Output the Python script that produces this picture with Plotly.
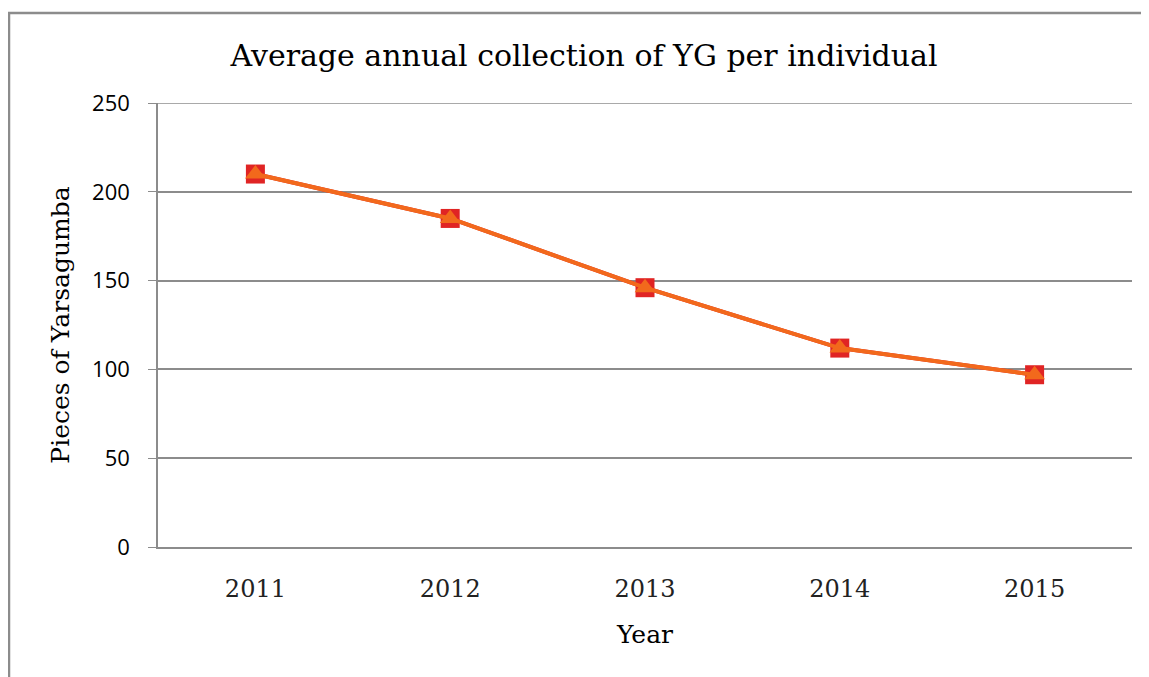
import plotly.graph_objects as go

years = ["2011", "2012", "2013", "2014", "2015"]
series_a = [210, 185, 146, 112, 97]
series_b = [210, 185, 146, 112, 97]
y_ticks = [0, 50, 100, 150, 200, 250]

# page body adds an 8px offset, so margins are shifted to land the plot area
OFF = 8
W, H = 1149, 677
L, T = 158 - OFF, 103 - OFF
pw, ph = 1132 - 158, 547 - 103
R, B = W - L - pw, H - T - ph

fig = go.Figure()

fig.add_trace(go.Scatter(
    x=years, y=series_a, mode="lines+markers",
    line=dict(color="#e02424", width=4),
    marker=dict(symbol="square", size=19, color="#e02424"),
    showlegend=False,
))
fig.add_trace(go.Scatter(
    x=years, y=series_b, mode="lines+markers",
    line=dict(color="#f2691c", width=4),
    marker=dict(symbol="triangle-up", size=18, color="#f2691c"),
    showlegend=False,
))

# top gridline (plotly skips the gridline at the range edge)
fig.add_shape(
    type="line", xref="paper", yref="y", x0=0, x1=1, y0=y_ticks[-1], y1=y_ticks[-1],
    line=dict(color="#8c8c8c", width=1.5), layer="below",
)

# outer chart frame
fig.add_shape(
    type="rect", xref="paper", yref="paper",
    x0=(9 - 158) / pw, x1=(1160 - 158) / pw,
    y0=-(700 - 547) / ph, y1=1 + (103 - 13) / ph,
    line=dict(color="#8c8c8c", width=2.5),
)

fig.update_layout(
    width=W, height=H,
    margin=dict(l=L, r=R, t=T, b=B),
    paper_bgcolor="white", plot_bgcolor="white",
    title=dict(
        text="Average annual collection of YG per individual",
        x=(584 - OFF) / W, xanchor="center", y=1 - (55 - OFF) / H, yanchor="middle",
        font=dict(family="DejaVu Serif", size=30, color="black"),
    ),
    xaxis=dict(
        type="category", range=[-0.5, 4.5],
        showgrid=False, showline=True, linecolor="#8c8c8c", linewidth=1.5,
        ticks="", ticklabelstandoff=19,
        tickfont=dict(family="DejaVu Serif", size=24, color="#222"),
        title=dict(text="Year", font=dict(family="DejaVu Serif", size=25, color="black"), standoff=24),
    ),
    yaxis=dict(
        range=[0, 250], tickvals=y_ticks,
        showgrid=True, gridcolor="#8c8c8c", gridwidth=1.5,
        showline=True, linecolor="#8c8c8c", linewidth=1.5,
        ticks="outside", ticklen=8, tickcolor="#8c8c8c", ticklabelstandoff=14,
        tickfont=dict(family="Open Sans", size=22, color="black"),
        zeroline=False,
        title=dict(text="Pieces of Yarsagumba", font=dict(family="DejaVu Serif", size=25, color="black"), standoff=15),
    ),
)

fig.write_html("out.html")
